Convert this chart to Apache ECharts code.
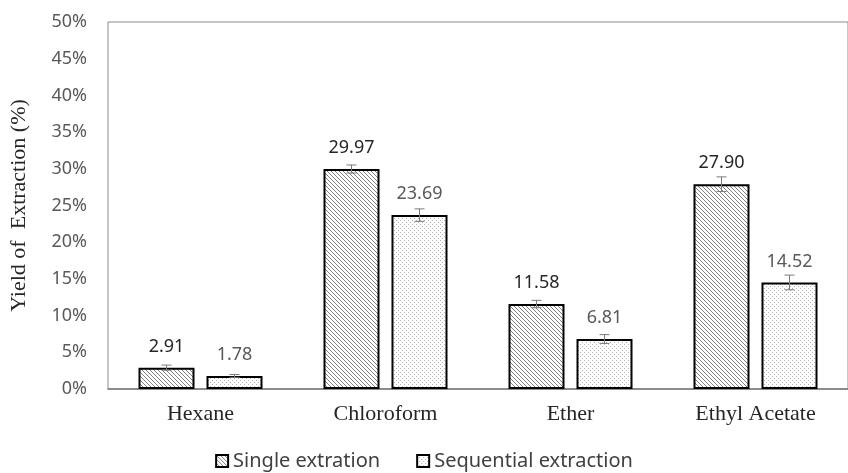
<!DOCTYPE html>
<html><head><meta charset="utf-8">
<script src="https://cdn.jsdelivr.net/npm/echarts@6/dist/echarts.min.js"></script>
<style>html,body{margin:0;padding:0;background:#fff}#c{width:848px;height:473px}</style>
</head><body><div id="c"></div>
<script>
const categories = ['Hexane', 'Chloroform', 'Ether', 'Ethyl Acetate'];
const seriesNames = ['Single extration', 'Sequential extraction'];
const singleValues = [2.91, 29.97, 11.58, 27.90];
const sequentialValues = [1.78, 23.69, 6.81, 14.52];
const singleErrors = [0.35, 0.55, 0.5, 1.0];
const sequentialErrors = [0.2, 0.85, 0.6, 1.0];
const yTicks = [0, 5, 10, 15, 20, 25, 30, 35, 40, 45, 50];

const BAR_W = 56, GAP = 12;

function hatch() {
  const c = document.createElement('canvas'); c.width = c.height = 4;
  const g = c.getContext('2d');
  g.fillStyle = '#fff'; g.fillRect(0, 0, 4, 4);
  g.strokeStyle = '#808080'; g.lineWidth = 1;
  g.beginPath();
  g.moveTo(0, 0); g.lineTo(4, 4);
  g.moveTo(-2, 2); g.lineTo(2, 6);
  g.moveTo(2, -2); g.lineTo(6, 2);
  g.stroke();
  return c;
}
function dots() {
  const c = document.createElement('canvas'); c.width = c.height = 4;
  const g = c.getContext('2d');
  g.fillStyle = '#fff'; g.fillRect(0, 0, 4, 4);
  g.fillStyle = '#b0b0b0';
  g.fillRect(0, 0, 1, 1); g.fillRect(2, 2, 1, 1);
  return c;
}

const chart = echarts.init(document.getElementById('c'));
function errSeries(vals, errs, sign) {
  return {
    type: 'custom', z: 5, silent: true,
    data: vals.map((v, i) => [i, v, errs[i]]),
    renderItem: function (params, api) {
      const i = api.value(0), v = api.value(1), e = api.value(2);
      const off = sign * (BAR_W + GAP) / 2;
      const hi = api.coord([i, v + e]), lo = api.coord([i, v - e]);
      const x = hi[0] + off, cw = 5;
      const st = { stroke: '#7a7a7a', lineWidth: 1 };
      return { type: 'group', children: [
        { type: 'line', shape: { x1: x, y1: hi[1], x2: x, y2: lo[1] }, style: st },
        { type: 'line', shape: { x1: x - cw, y1: hi[1], x2: x + cw, y2: hi[1] }, style: st },
        { type: 'line', shape: { x1: x - cw, y1: lo[1], x2: x + cw, y2: lo[1] }, style: st }
      ]};
    }
  };
}
const lblFont = { fontFamily: 'Noto Sans', fontSize: 18 };
chart.setOption({
  animation: false,
  grid: { left: 104, top: 22, width: 756, height: 367, show: true, borderColor: '#8c8c8c', borderWidth: 1, containLabel: false },
  legend: {
    bottom: -3, left: 'center', itemWidth: 12, itemHeight: 12, itemGap: 36, icon: 'rect',
    data: seriesNames,
    textStyle: { fontFamily: 'Noto Sans', fontSize: 20, color: '#404040' }
  },
  xAxis: {
    type: 'category', data: categories,
    axisLine: { lineStyle: { color: '#7a7a7a', width: 1.5 } },
    axisTick: { show: false },
    axisLabel: { fontFamily: 'Liberation Serif', fontSize: 22, color: '#262626', margin: 14 }
  },
  yAxis: {
    type: 'value', min: yTicks[0], max: yTicks[yTicks.length - 1], interval: 5,
    splitLine: { show: false },
    axisLine: { show: false }, axisTick: { show: false },
    axisLabel: { formatter: v => v + '%', fontFamily: 'Noto Sans', fontSize: 18, color: '#595959', margin: 21 },
    name: 'Yield of  Extraction (%)', nameLocation: 'middle', nameGap: 78,
    nameTextStyle: { fontFamily: 'Liberation Serif', fontSize: 22, color: '#262626' }
  },
  series: [
    {
      name: seriesNames[0], type: 'bar', data: singleValues, barWidth: BAR_W, barGap: (GAP / BAR_W * 100) + '%',
      itemStyle: { color: { image: hatch(), repeat: 'repeat' }, borderColor: '#000', borderWidth: 2 },
      label: { show: true, position: 'top', distance: 12, formatter: p => p.value.toFixed(2), color: '#262626', ...lblFont }
    },
    {
      name: seriesNames[1], type: 'bar', data: sequentialValues, barWidth: BAR_W,
      itemStyle: { color: { image: dots(), repeat: 'repeat' }, borderColor: '#000', borderWidth: 2 },
      label: { show: true, position: 'top', distance: 12, formatter: p => p.value.toFixed(2), color: '#595959', ...lblFont }
    },
    errSeries(singleValues, singleErrors, -1),
    errSeries(sequentialValues, sequentialErrors, 1)
  ]
});
</script></body></html>
